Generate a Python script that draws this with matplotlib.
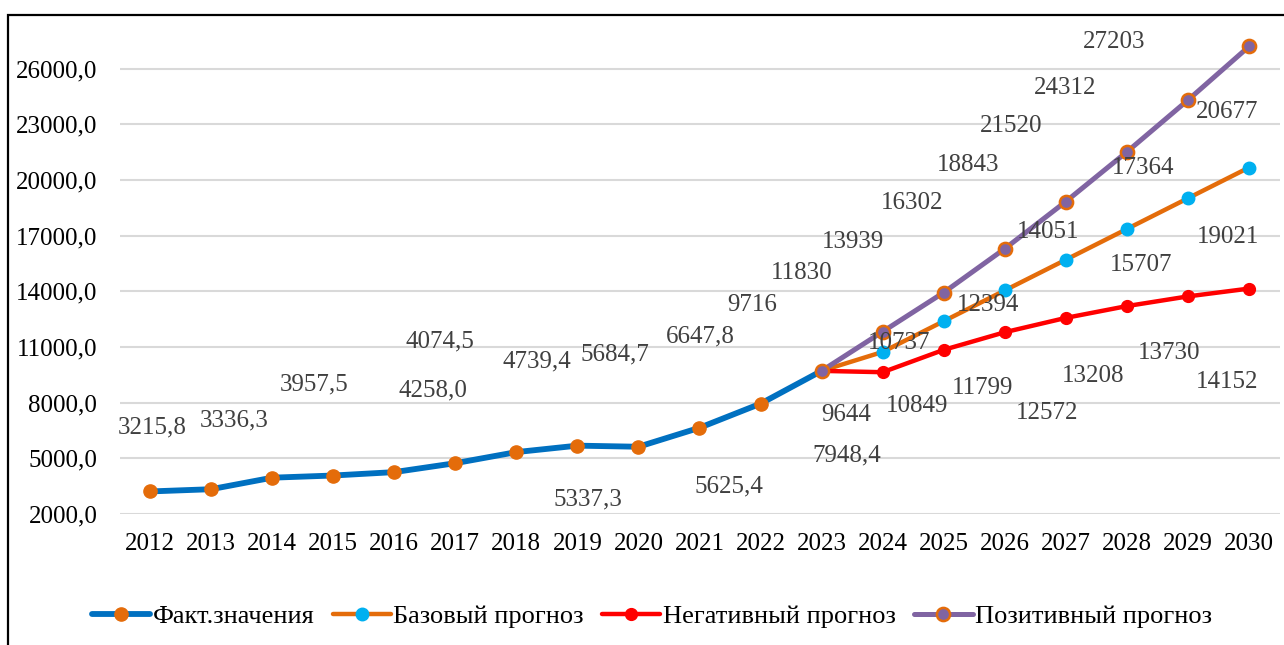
import matplotlib
matplotlib.use("Agg")
import matplotlib.pyplot as plt
from matplotlib.patches import Rectangle
import numpy as np

# Years on the category axis
years = [str(y) for y in range(2012, 2031)]
forecastYears = years[11:]

# Actual values 2012-2023
factValues = [3215.8, 3336.3, 3957.5, 4074.5, 4258.0, 4739.4, 5337.3, 5684.7,
              5625.4, 6647.8, 7948.4, 9716]
factLabels = ["3215,8", "3336,3", "3957,5", "4074,5", "4258,0", "4739,4", "5337,3",
              "5684,7", "5625,4", "6647,8", "7948,4", "9716"]

# Forecasts 2023-2030
baseValues = [9716, 10737, 12394, 14051, 15707, 17364, 19021, 20677]
negativeValues = [9716, 9644, 10849, 11799, 12572, 13208, 13730, 14152]
positiveValues = [9716, 11830, 13939, 16302, 18843, 21520, 24312, 27203]

# Where the data labels sit (category index, value) - they were dragged by hand in the original
factLabelX = [0.03, 1.38, 2.69, 4.75, 4.64, 6.34, 7.17, 7.62, 9.48, 9.01, 11.42, 9.86]
factLabelY = [6692, 7069, 8957, 11276, 8687, 10197, 2809, 10575, 3510, 11546, 5182, 13271]
baseLabelX = [12.27, 13.72, 14.71, 16.23, 16.26, 17.65, 17.65]
baseLabelY = [11222, 13271, 17208, 15429, 20660, 16939, 23680]
negativeLabelX = [11.40, 12.56, 13.64, 14.69, 15.44, 16.70, 17.65]
negativeLabelY = [7339, 7824, 8795, 7447, 9442, 10683, 9119]
positiveLabelX = [10.68, 11.51, 12.48, 13.40, 14.10, 14.99, 15.79]
positiveLabelY = [14997, 16669, 18772, 20822, 22925, 24974, 27455]

yTicks = list(range(2000, 26001, 3000))

plt.rcParams["font.family"] = ["Liberation Serif", "DejaVu Serif"]

fig = plt.figure(figsize=(12.84, 6.45), dpi=100)
W, H = 1284, 645
ax = fig.add_axes([119.5 / W, 1 - 514 / H, 1160 / W, (514 - 15) / H])

xAll = np.arange(len(years))
xFc = xAll[11:]

ax.plot(xAll[:12], factValues, color="#0070C0", lw=4.2, marker="o", ms=9.5,
        mfc="#E46C0A", mec="#E46C0A", label="Факт.значения", zorder=3,
        solid_capstyle="round")
ax.plot(xFc, baseValues, color="#E46C0A", lw=3.2, marker="o", ms=9,
        mfc="#00B0F0", mec="#00B0F0", label="Базовый прогноз", zorder=4,
        solid_capstyle="round")
ax.plot(xFc, negativeValues, color="#FF0000", lw=3.2, marker="o", ms=8.5,
        mfc="#FF0000", mec="#FF0000", label="Негативный прогноз", zorder=5,
        solid_capstyle="round")
ax.plot(xFc, positiveValues, color="#8064A2", lw=3.6, marker="o", ms=9.5,
        mfc="#8064A2", mec="#E46C0A", mew=1.8, label="Позитивный прогноз", zorder=6,
        solid_capstyle="round")

# Data labels
labelStyle = dict(ha="center", va="center", fontsize=18, color="#404040", zorder=7)
for x, y, t in zip(factLabelX, factLabelY, factLabels):
    ax.text(x, y, t, **labelStyle)
for x, y, v in zip(baseLabelX, baseLabelY, baseValues[1:]):
    ax.text(x, y, str(v), **labelStyle)
for x, y, v in zip(negativeLabelX, negativeLabelY, negativeValues[1:]):
    ax.text(x, y, str(v), **labelStyle)
for x, y, v in zip(positiveLabelX, positiveLabelY, positiveValues[1:]):
    ax.text(x, y, str(v), **labelStyle)

ax.set_xlim(-0.5, len(years) - 0.5)
ax.set_ylim(2000, 28900)
ax.set_xticks(xAll)
ax.set_xticklabels(years, fontsize=18)
ax.set_yticks(yTicks)
ax.set_yticklabels([f"{v},0" for v in yTicks], fontsize=18)
ax.tick_params(axis="both", length=0, colors="#000000")
ax.tick_params(axis="y", pad=16)
ax.tick_params(axis="x", pad=14)
ax.grid(axis="y", color="#D9D9D9", lw=1.5)
ax.set_axisbelow(True)
for s in ax.spines.values():
    s.set_visible(False)

fig.legend(loc="center", bbox_to_anchor=(652 / W, 1 - 616 / H), ncol=4,
           frameon=False, fontsize=19, handlelength=2.2, handletextpad=0.1,
           columnspacing=0.7)

# Outer chart frame (only left and top edges fall inside the picture)
fig.patches.append(Rectangle((8 / W, -0.1), 1.2, 1.1 - 15 / H, transform=fig.transFigure,
                             fill=False, ec="#000000", lw=1.6, zorder=10))

fig.savefig("out.png", dpi=100)
